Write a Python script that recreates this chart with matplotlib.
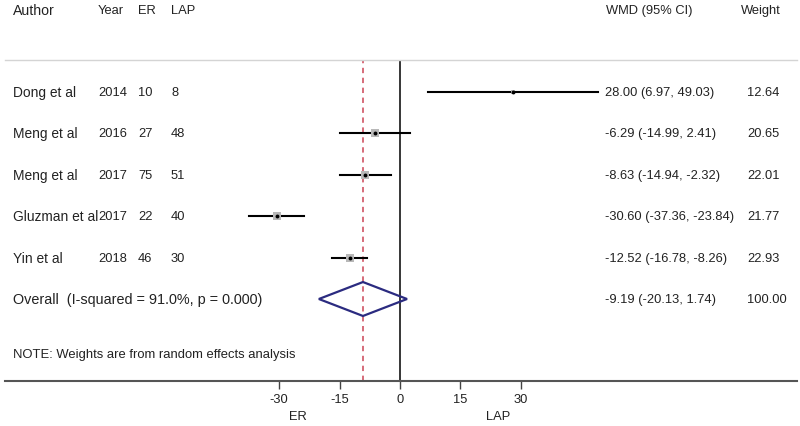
import matplotlib
matplotlib.use("Agg")
import matplotlib.pyplot as plt
import matplotlib.transforms as mtransforms
import numpy as np

# ---- data ----
authors = ["Dong et al", "Meng et al", "Meng et al", "Gluzman et al", "Yin et al"]
years = ["2014", "2016", "2017", "2017", "2018"]
er_n = [10, 27, 75, 22, 46]
lap_n = [8, 48, 51, 40, 30]
wmd = [28.00, -6.29, -8.63, -30.60, -12.52]
ci_lo = [6.97, -14.99, -14.94, -37.36, -16.78]
ci_hi = [49.03, 2.41, -2.32, -23.84, -8.26]
weights = [12.64, 20.65, 22.01, 21.77, 22.93]
overall_est = -9.19
overall_lo = -20.13
overall_hi = 1.74
overall_weight = 100.00
overall_label = "Overall  (I-squared = 91.0%, p = 0.000)"
note = "NOTE: Weights are from random effects analysis"
xticks = [-30, -15, 0, 15, 30]
headers = ["Author", "Year", "ER", "LAP", "WMD (95% CI)", "Weight"]

W, H = 800, 427
plt.rcParams['font.family'] = ['Liberation Sans', 'DejaVu Sans']
fig = plt.figure(figsize=(W / 100, H / 100), dpi=100)
fig.patch.set_facecolor('white')

px2fx = lambda p: p / W
px2fy = lambda p: 1 - p / H

ax_left, ax_right = 5, 797
ax_top, ax_bot = 61, 382
ax = fig.add_axes([px2fx(ax_left), px2fy(ax_bot), px2fx(ax_right - ax_left), (ax_bot - ax_top) / H])
ax.set_facecolor('none')

scale = 4.03  # px per unit
ax.set_xlim((ax_left - 400) / scale, (ax_right - 400) / scale)
row_px = 41.4
top_y = (93 - ax_top) / row_px
ax.set_ylim(top_y - (ax_bot - ax_top) / row_px, top_y)

fs = 9.3
fs_name = 9.9
fs_overall = 10.4
fs_note = 9.4
tc = '#222222'

n = len(wmd)
rows = -np.arange(n)
ov_row = -n

# reference lines
ylo, yhi = ax.get_ylim()
ax.plot([0, 0], [ylo, yhi], color='black', lw=1.1, zorder=2)
ax.plot([overall_est, overall_est], [ylo, yhi],
        color='#cc4455', lw=1.1, ls=(0, (3.5, 3)), zorder=2)

# studies
for i in range(n):
    ax.plot([ci_lo[i], ci_hi[i]], [rows[i], rows[i]], color='black', lw=1.5, zorder=3)
    ax.plot(wmd[i], rows[i], marker='s', color='#b8b8b8', markeredgewidth=0,
            markersize=1.22 * np.sqrt(weights[i]) if i > 0 else 3.0, zorder=3)
    ax.plot(wmd[i], rows[i], marker='o', color='black', markersize=2.8,
            markeredgewidth=0, zorder=4)

# overall diamond
dh = 0.41
ax.fill([overall_lo, overall_est, overall_hi, overall_est, overall_lo],
        [ov_row, ov_row + dh, ov_row, ov_row - dh, ov_row],
        facecolor='none', edgecolor='#2b2b80', lw=1.6, zorder=5)

# spines / ticks
for s in ['left', 'right']:
    ax.spines[s].set_visible(False)
ax.spines['top'].set_color('#d4d4d4')
ax.spines['top'].set_linewidth(1.0)
ax.spines['bottom'].set_color('#555555')
ax.spines['bottom'].set_linewidth(1.5)
ax.set_yticks([])
ax.set_xticks(xticks)
ax.set_xticklabels([str(t) for t in xticks])
ax.tick_params(axis='x', direction='out', length=5.5, width=1.0, color='#444444',
               labelsize=fs, labelcolor=tc, pad=3)

# text columns
tr = mtransforms.blended_transform_factory(fig.transFigure, ax.transData)
col_author, col_year, col_er, col_lap = 13, 98, 138, 171
col_wmd, col_w = 605, 747
for i in range(n):
    y = rows[i]
    ax.text(px2fx(col_author), y, authors[i], transform=tr, fontsize=fs_name, color=tc, va='center', ha='left')
    ax.text(px2fx(col_year), y, years[i], transform=tr, fontsize=fs, color=tc, va='center', ha='left')
    ax.text(px2fx(col_er), y, str(er_n[i]), transform=tr, fontsize=fs, color=tc, va='center', ha='left')
    ax.text(px2fx(col_lap), y, str(lap_n[i]), transform=tr, fontsize=fs, color=tc, va='center', ha='left')
    ax.text(px2fx(col_wmd), y, f"{wmd[i]:.2f} ({ci_lo[i]:.2f}, {ci_hi[i]:.2f})", transform=tr,
            fontsize=fs, color=tc, va='center', ha='left')
    ax.text(px2fx(col_w), y, f"{weights[i]:.2f}", transform=tr, fontsize=fs, color=tc, va='center', ha='left')

ax.text(px2fx(col_author), ov_row, overall_label, transform=tr, fontsize=fs_overall, color=tc, va='center', ha='left')
ax.text(px2fx(col_wmd), ov_row, f"{overall_est:.2f} ({overall_lo:.2f}, {overall_hi:.2f})", transform=tr,
        fontsize=fs, color=tc, va='center', ha='left')
ax.text(px2fx(col_w), ov_row, f"{overall_weight:.2f}", transform=tr, fontsize=fs, color=tc, va='center', ha='left')

ax.text(px2fx(col_author), -(355 - 93) / row_px, note, transform=tr, fontsize=fs_note,
        color=tc, va='center', ha='left')

# headers
hy = px2fy(11)
hsizes = [10.2, fs, fs, fs, fs, fs]
for txt, xp, hs in zip(headers, [col_author, col_year, col_er, col_lap, 606, 741], hsizes):
    fig.text(px2fx(xp), hy, txt, fontsize=hs, color=tc, va='center', ha='left')

# ER / LAP axis labels
fig.text(px2fx(298), px2fy(417), "ER", fontsize=fs, color=tc, va='center', ha='center')
fig.text(px2fx(498), px2fy(417), "LAP", fontsize=fs, color=tc, va='center', ha='center')

fig.savefig("out.png", dpi=100, facecolor='white')
